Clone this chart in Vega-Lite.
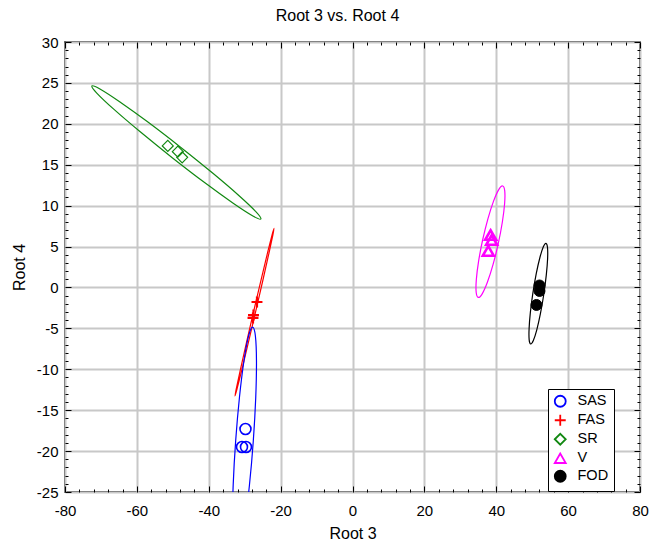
{
  "$schema": "https://vega.github.io/schema/vega-lite/v6.json",
  "width": 575,
  "height": 450,
  "autosize": {"type": "none"},
  "padding": {"left": 65, "top": 42, "right": 11, "bottom": 49},
  "background": "white",
  "title": {"text": "Root 3 vs. Root 4", "fontSize": 16, "fontWeight": "normal", "font": "Liberation Sans", "color": "black", "offset": 11, "dx": -15},
  "datasets": {
    "ell": [
      {"g":"SR","i":0,"x":-25.49,"y":8.37},{"g":"SR","i":1,"x":-27.72,"y":8.74},{"g":"SR","i":2,"x":-33.20,"y":10.30},{"g":"SR","i":3,"x":-41.07,"y":12.79},
      {"g":"SR","i":4,"x":-50.16,"y":15.86},{"g":"SR","i":5,"x":-59.07,"y":19.02},{"g":"SR","i":6,"x":-66.44,"y":21.79},{"g":"SR","i":7,"x":-71.16,"y":23.76},
      {"g":"SR","i":8,"x":-72.51,"y":24.63},{"g":"SR","i":9,"x":-70.28,"y":24.26},{"g":"SR","i":10,"x":-64.80,"y":22.70},{"g":"SR","i":11,"x":-56.93,"y":20.21},
      {"g":"SR","i":12,"x":-47.85,"y":17.14},{"g":"SR","i":13,"x":-38.93,"y":13.98},{"g":"SR","i":14,"x":-31.56,"y":11.21},{"g":"SR","i":15,"x":-26.84,"y":9.24},
      {"g":"FAS","i":0,"x":-21.84,"y":7.23},{"g":"FAS","i":1,"x":-22.15,"y":6.44},{"g":"FAS","i":2,"x":-23.24,"y":4.21},{"g":"FAS","i":3,"x":-24.94,"y":0.88},
      {"g":"FAS","i":4,"x":-27.00,"y":-3.05},{"g":"FAS","i":5,"x":-29.10,"y":-6.97},{"g":"FAS","i":6,"x":-30.91,"y":-10.29},{"g":"FAS","i":7,"x":-32.18,"y":-12.50},
      {"g":"FAS","i":8,"x":-32.70,"y":-13.27},{"g":"FAS","i":9,"x":-32.39,"y":-12.48},{"g":"FAS","i":10,"x":-31.30,"y":-10.25},{"g":"FAS","i":11,"x":-29.60,"y":-6.92},
      {"g":"FAS","i":12,"x":-27.54,"y":-2.99},{"g":"FAS","i":13,"x":-25.44,"y":0.93},{"g":"FAS","i":14,"x":-23.63,"y":4.25},{"g":"FAS","i":15,"x":-22.36,"y":6.46},
      {"g":"SAS","i":0,"x":-27.78,"y":-4.84},{"g":"SAS","i":1,"x":-27.02,"y":-5.93},{"g":"SAS","i":2,"x":-26.72,"y":-8.97},{"g":"SAS","i":3,"x":-26.93,"y":-13.51},
      {"g":"SAS","i":4,"x":-27.62,"y":-18.85},{"g":"SAS","i":5,"x":-28.68,"y":-24.18},{"g":"SAS","i":6,"x":-29.95,"y":-28.68},{"g":"SAS","i":7,"x":-31.23,"y":-31.67},
      {"g":"SAS","i":8,"x":-32.34,"y":-32.70},{"g":"SAS","i":9,"x":-33.10,"y":-31.62},{"g":"SAS","i":10,"x":-33.40,"y":-28.57},{"g":"SAS","i":11,"x":-33.19,"y":-24.04},
      {"g":"SAS","i":12,"x":-32.50,"y":-18.69},{"g":"SAS","i":13,"x":-31.44,"y":-13.36},{"g":"SAS","i":14,"x":-30.17,"y":-8.87},{"g":"SAS","i":15,"x":-28.89,"y":-5.87},
      {"g":"V","i":0,"x":41.79,"y":12.40},{"g":"V","i":1,"x":42.36,"y":11.80},{"g":"V","i":2,"x":42.33,"y":10.26},{"g":"V","i":3,"x":41.70,"y":8.00},
      {"g":"V","i":4,"x":40.57,"y":5.38},{"g":"V","i":5,"x":39.10,"y":2.79},{"g":"V","i":6,"x":37.53,"y":0.63},{"g":"V","i":7,"x":36.09,"y":-0.78},
      {"g":"V","i":8,"x":35.00,"y":-1.22},{"g":"V","i":9,"x":34.42,"y":-0.62},{"g":"V","i":10,"x":34.45,"y":0.93},{"g":"V","i":11,"x":35.08,"y":3.18},
      {"g":"V","i":12,"x":36.21,"y":5.80},{"g":"V","i":13,"x":37.68,"y":8.39},{"g":"V","i":14,"x":39.25,"y":10.55},{"g":"V","i":15,"x":40.69,"y":11.96},
      {"g":"FOD","i":0,"x":53.84,"y":5.39},{"g":"FOD","i":1,"x":54.26,"y":4.89},{"g":"FOD","i":2,"x":54.29,"y":3.52},{"g":"FOD","i":3,"x":53.92,"y":1.50},
      {"g":"FOD","i":4,"x":53.22,"y":-0.86},{"g":"FOD","i":5,"x":52.29,"y":-3.21},{"g":"FOD","i":6,"x":51.28,"y":-5.18},{"g":"FOD","i":7,"x":50.32,"y":-6.49},
      {"g":"FOD","i":8,"x":49.58,"y":-6.91},{"g":"FOD","i":9,"x":49.16,"y":-6.41},{"g":"FOD","i":10,"x":49.14,"y":-5.04},{"g":"FOD","i":11,"x":49.50,"y":-3.02},
      {"g":"FOD","i":12,"x":50.20,"y":-0.66},{"g":"FOD","i":13,"x":51.13,"y":1.69},{"g":"FOD","i":14,"x":52.15,"y":3.66},{"g":"FOD","i":15,"x":53.10,"y":4.97}
    ],
    "pts": [
      {"g":"SAS","x":-29.78,"y":-17.30},{"g":"SAS","x":-30.75,"y":-19.50},{"g":"SAS","x":-29.64,"y":-19.50},
      {"g":"FAS","x":-26.58,"y":-1.78},{"g":"FAS","x":-27.55,"y":-3.37},{"g":"FAS","x":-27.69,"y":-3.73},
      {"g":"SR","x":-51.4,"y":17.3},{"g":"SR","x":-48.6,"y":16.6},{"g":"SR","x":-47.4,"y":15.9},
      {"g":"V","x":38.45,"y":6.41},{"g":"V","x":38.73,"y":5.8},{"g":"V","x":37.78,"y":4.46},
      {"g":"FOD","x":52.03,"y":0.24},{"g":"FOD","x":52.03,"y":-0.43},{"g":"FOD","x":51.19,"y":-2.14}
    ]
  },
  "layer": [
    {
      "data": {"name": "ell"},
      "mark": {"type": "line", "interpolate": "cardinal-closed", "strokeWidth": 1.2, "clip": true},
      "encoding": {
        "x": {"field": "x", "type": "quantitative", "scale": {"domain": [-80, 80], "nice": false, "zero": false},
          "axis": {"orient": "bottom", "title": "Root 3", "titleY": 46, "titleBaseline": "alphabetic", "domain": false, "grid": true, "labelFlush": false, "labelOverlap": false,
            "values": [-80,-76,-72,-68,-64,-60,-56,-52,-48,-44,-40,-36,-32,-28,-24,-20,-16,-12,-8,-4,0,4,8,12,16,20,24,28,32,36,40,44,48,52,56,60,64,68,72,76,80],
            "labelExpr": "datum.value % 20 === 0 ? '' + datum.value : ''",
            "tickSize": {"condition": {"test": "datum.value % 20 === 0", "value": -6}, "value": -3},
            "gridOpacity": {"condition": {"test": "datum.value % 20 === 0", "value": 1}, "value": 0},
            "labelPadding": 17}},
        "y": {"field": "y", "type": "quantitative", "scale": {"domain": [-25, 30], "nice": false, "zero": false},
          "axis": {"orient": "left", "title": "Root 4", "titlePadding": 9, "domain": false, "grid": true, "labelFlush": false, "labelOverlap": false,
            "values": [-25,-24,-23,-22,-21,-20,-19,-18,-17,-16,-15,-14,-13,-12,-11,-10,-9,-8,-7,-6,-5,-4,-3,-2,-1,0,1,2,3,4,5,6,7,8,9,10,11,12,13,14,15,16,17,18,19,20,21,22,23,24,25,26,27,28,29,30],
            "labelExpr": "datum.value % 5 === 0 ? '' + datum.value : ''",
            "tickSize": {"condition": {"test": "datum.value % 5 === 0", "value": -6}, "value": -3},
            "gridOpacity": {"condition": {"test": "datum.value % 5 === 0", "value": 1}, "value": 0},
            "labelPadding": 13}},
        "order": {"field": "i", "type": "quantitative"},
        "color": {"field": "g", "type": "nominal", "legend": null,
          "scale": {"domain": ["FOD","V","SR","FAS","SAS"], "range": ["#000000","#ff00ff","#118811","#ff0000","#0000ff"]}}
      }
    },
    {
      "data": {"name": "pts"},
      "mark": {"type": "point", "opacity": 1, "size": 120},
      "encoding": {
        "x": {"field": "x", "type": "quantitative",
          "axis": {"orient": "top", "title": null, "labels": false, "domain": false, "grid": false,
            "values": [-80,-76,-72,-68,-64,-60,-56,-52,-48,-44,-40,-36,-32,-28,-24,-20,-16,-12,-8,-4,0,4,8,12,16,20,24,28,32,36,40,44,48,52,56,60,64,68,72,76,80],
            "tickSize": {"condition": {"test": "datum.value % 20 === 0", "value": -6}, "value": -3}}},
        "y": {"field": "y", "type": "quantitative",
          "axis": {"orient": "right", "title": null, "labels": false, "domain": false, "grid": false,
            "values": [-25,-24,-23,-22,-21,-20,-19,-18,-17,-16,-15,-14,-13,-12,-11,-10,-9,-8,-7,-6,-5,-4,-3,-2,-1,0,1,2,3,4,5,6,7,8,9,10,11,12,13,14,15,16,17,18,19,20,21,22,23,24,25,26,27,28,29,30],
            "tickSize": {"condition": {"test": "datum.value % 5 === 0", "value": -6}, "value": -3}}},
        "stroke": {"field": "g", "type": "nominal",
          "legend": {"title": null, "orient": "none", "legendX": 483, "legendY": 347, "fillColor": "#ffffff", "strokeColor": "#000000", "padding": 5, "labelFont": "Liberation Sans", "labelFontSize": 14.5, "labelColor": "#000000", "symbolSize": 120, "symbolStrokeWidth": 1.8, "rowPadding": 0, "labelOffset": 10, "symbolOpacity": 1},
          "scale": {"domain": ["SAS","FAS","SR","V","FOD"], "range": ["#0000ff","#ff0000","#118811","#ff00ff","#000000"]}},
        "fill": {"field": "g", "type": "nominal",
          "legend": {"title": null, "orient": "none", "legendX": 483, "legendY": 347},
          "scale": {"domain": ["SAS","FAS","SR","V","FOD"], "range": ["transparent","transparent","transparent","transparent","#000000"]}},
        "shape": {"field": "g", "type": "nominal",
          "legend": {"title": null, "orient": "none", "legendX": 483, "legendY": 347},
          "scale": {"domain": ["SAS","FAS","SR","V","FOD"], "range": ["circle","M-1,0H1M0,-1V1","diamond","triangle-up","circle"]}},
        "strokeWidth": {"field": "g", "type": "nominal", "legend": null,
          "scale": {"type": "ordinal", "domain": ["FOD","V","SR","FAS","SAS"], "range": [1, 2.6, 1.2, 2.2, 1.6]}}
      }
    }
  ],
  "resolve": {"axis": {"x": "independent", "y": "independent"}},
  "config": {
    "font": "Liberation Sans",
    "view": {"stroke": "#000000", "strokeWidth": 1.5},
    "axis": {"labelFont": "Liberation Sans", "labelFontSize": 15, "labelColor": "#000000", "titleFont": "Liberation Sans", "titleFontSize": 16, "titleFontWeight": "normal", "titleColor": "#000000", "tickColor": "#000000", "tickWidth": 1, "gridColor": "#c8c8c8", "gridWidth": 2}
  }
}
